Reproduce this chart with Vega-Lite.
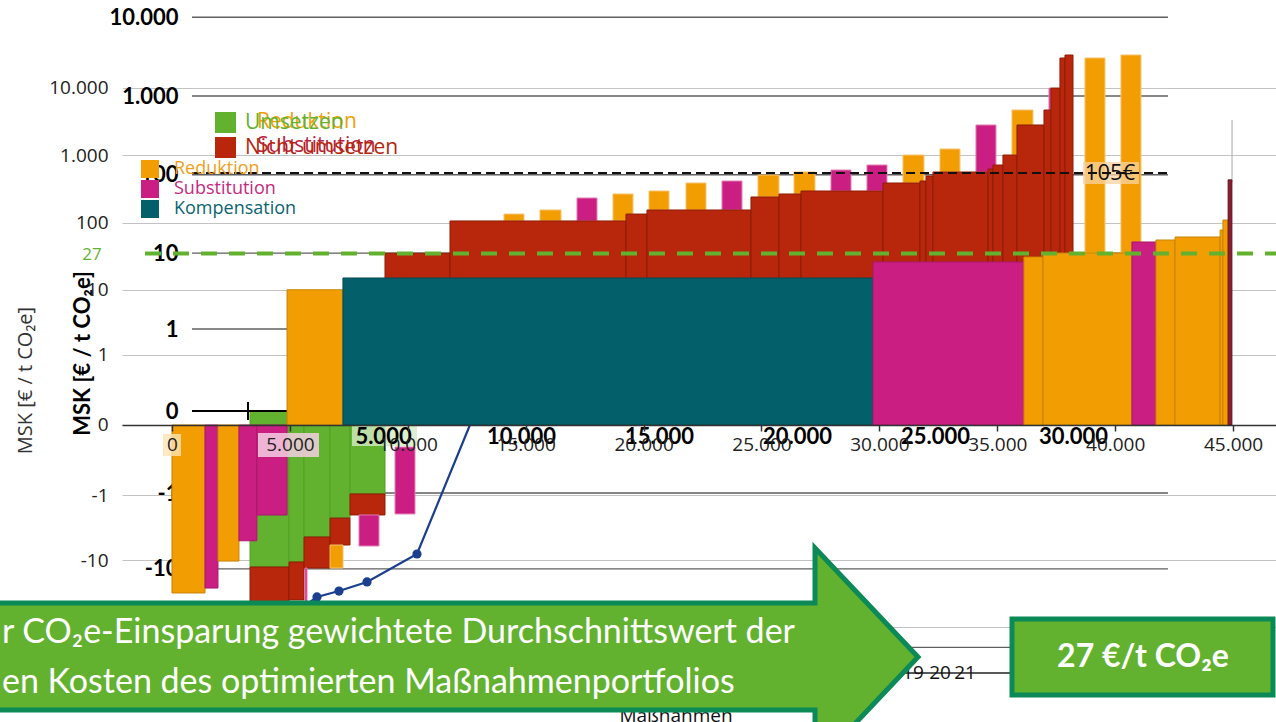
{
  "$schema": "https://vega.github.io/schema/vega-lite/v6.json",
  "width": 1154,
  "height": 722,
  "autosize": {"type": "none"},
  "padding": {"left": 122, "top": 0, "right": 0, "bottom": 0},
  "background": "white",
  "config": {"view": {"stroke": null}, "font": "Open Sans"},
  "resolve": {
    "scale": {"x": "independent", "y": "independent", "fill": "independent", "stroke": "independent"},
    "axis": {"x": "independent", "y": "independent"}
  },
  "layer": [
    {
      "data": {"values": [{"wert": -100}, {"wert": -10}, {"wert": -1}, {"wert": 1}, {"wert": 10}, {"wert": 100}, {"wert": 1000}, {"wert": 10000}]},
      "mark": {"type": "rule", "color": "#5f5f5f", "strokeWidth": 1.3},
      "encoding": {
        "y": {"field": "wert", "type": "quantitative", "scale": {"type": "symlog", "constant": 0.1, "domain": [-889.7, 16571], "nice": false, "zero": false}, "axis": null},
        "x": {"datum": -1920, "scale": {"domain": [-4457, 37355], "nice": false, "zero": false}, "axis": null},
        "x2": {"datum": 33440}
      }
    },
    {
      "data": {"values": [
        {"kat": "Reduktion", "x": 9384, "x2": 10108, "y": 25.8, "y2": 31.6},
        {"kat": "Reduktion", "x": 10688, "x2": 11449, "y": 25.8, "y2": 35.6},
        {"kat": "Substitution", "x": 12028, "x2": 12753, "y": 25.8, "y2": 50.6},
        {"kat": "Reduktion", "x": 13333, "x2": 14057, "y": 25.8, "y2": 56.9},
        {"kat": "Reduktion", "x": 14637, "x2": 15362, "y": 35.6, "y2": 62.1},
        {"kat": "Reduktion", "x": 15978, "x2": 16702, "y": 35.6, "y2": 78.5},
        {"kat": "Substitution", "x": 17282, "x2": 18006, "y": 35.6, "y2": 83.2},
        {"kat": "Reduktion", "x": 18586, "x2": 19347, "y": 52.1, "y2": 99.2},
        {"kat": "Reduktion", "x": 19891, "x2": 20651, "y": 56.9, "y2": 108.3},
        {"kat": "Substitution", "x": 21231, "x2": 21956, "y": 62.1, "y2": 114.8},
        {"kat": "Substitution", "x": 22535, "x2": 23260, "y": 62.1, "y2": 132.9},
        {"kat": "Reduktion", "x": 23840, "x2": 24600, "y": 78.5, "y2": 178},
        {"kat": "Reduktion", "x": 25180, "x2": 25904, "y": 108.3, "y2": 212.3},
        {"kat": "Substitution", "x": 26484, "x2": 27209, "y": 108.3, "y2": 428.5},
        {"kat": "Reduktion", "x": 27789, "x2": 28549, "y": 178, "y2": 664},
        {"kat": "Substitution", "x": 29129, "x2": 29201, "y": 664, "y2": 1263},
        {"kat": "Reduktion", "x": 30433, "x2": 31158, "y": 10, "y2": 3039},
        {"kat": "Reduktion", "x": 31737, "x2": 32462, "y": 10, "y2": 3316},
        {"kat": "Nicht umsetzen", "x": 5072, "x2": 7427, "y": 0, "y2": 10},
        {"kat": "Nicht umsetzen", "x": 7427, "x2": 13804, "y": 0, "y2": 25.8},
        {"kat": "Nicht umsetzen", "x": 13804, "x2": 14564, "y": 0, "y2": 31.6},
        {"kat": "Nicht umsetzen", "x": 14564, "x2": 18332, "y": 0, "y2": 35.6},
        {"kat": "Nicht umsetzen", "x": 18332, "x2": 19347, "y": 0, "y2": 52.1},
        {"kat": "Nicht umsetzen", "x": 19347, "x2": 20144, "y": 0, "y2": 56.9},
        {"kat": "Nicht umsetzen", "x": 20144, "x2": 23115, "y": 0, "y2": 62.1},
        {"kat": "Nicht umsetzen", "x": 23115, "x2": 24455, "y": 0, "y2": 78.5},
        {"kat": "Nicht umsetzen", "x": 24455, "x2": 24673, "y": 0, "y2": 83.2},
        {"kat": "Nicht umsetzen", "x": 24673, "x2": 24926, "y": 0, "y2": 96.3},
        {"kat": "Nicht umsetzen", "x": 24926, "x2": 26919, "y": 0, "y2": 108.3},
        {"kat": "Nicht umsetzen", "x": 26919, "x2": 27100, "y": 0, "y2": 118.2},
        {"kat": "Nicht umsetzen", "x": 27100, "x2": 27462, "y": 0, "y2": 132.9},
        {"kat": "Nicht umsetzen", "x": 27462, "x2": 27970, "y": 0, "y2": 178},
        {"kat": "Nicht umsetzen", "x": 27970, "x2": 28948, "y": 0, "y2": 428.5},
        {"kat": "Nicht umsetzen", "x": 28948, "x2": 29201, "y": 0, "y2": 664},
        {"kat": "Nicht umsetzen", "x": 29201, "x2": 29527, "y": 0, "y2": 1263},
        {"kat": "Nicht umsetzen", "x": 29527, "x2": 29709, "y": 0, "y2": 3039},
        {"kat": "Nicht umsetzen", "x": 29709, "x2": 30000, "y": 0, "y2": 3316},
        {"kat": "Umsetzen", "x": 181, "x2": 1594, "y": 0, "y2": -9.47},
        {"kat": "Umsetzen", "x": 1594, "x2": 2138, "y": 0, "y2": -8.17},
        {"kat": "Umsetzen", "x": 2138, "x2": 3080, "y": 0, "y2": -3.88},
        {"kat": "Umsetzen", "x": 3080, "x2": 3804, "y": 0, "y2": -2.19},
        {"kat": "Umsetzen", "x": 3804, "x2": 5072, "y": 0, "y2": -1.03},
        {"kat": "Nicht umsetzen", "x": 181, "x2": 1594, "y": -9.47, "y2": -26.5},
        {"kat": "Nicht umsetzen", "x": 1594, "x2": 2138, "y": -8.17, "y2": -25},
        {"kat": "Nicht umsetzen", "x": 2138, "x2": 3080, "y": -3.88, "y2": -9.76},
        {"kat": "Nicht umsetzen", "x": 3080, "x2": 3804, "y": -2.19, "y2": -4.93},
        {"kat": "Nicht umsetzen", "x": 3804, "x2": 5072, "y": -1.03, "y2": -1.99},
        {"kat": "Substitution", "x": 4130, "x2": 4855, "y": -1.99, "y2": -5.08},
        {"kat": "Reduktion", "x": 3080, "x2": 3551, "y": -4.93, "y2": -9.76},
        {"kat": "Substitution", "x": 5435, "x2": 6159, "y": -0.187, "y2": -1.93},
        {"kat": "Substitution", "x": 2174, "x2": 2246, "y": -9.76, "y2": -26.5}
      ]},
      "mark": {"type": "rect", "strokeWidth": 1},
      "encoding": {
        "x": {
          "field": "x", "type": "quantitative",
          "scale": {"domain": [-4457, 37355], "nice": false, "zero": false},
          "axis": {
            "orient": "bottom", "offset": -296,
            "values": [5000, 10000, 15000, 20000, 25000, 30000],
            "labelExpr": "floor(datum.value/1000) + '.000'",
            "domain": false, "ticks": false, "grid": false,
            "labelPadding": 0, "labelFont": "Lato", "labelFontSize": 22, "labelFontWeight": "bold",
            "labelColor": "#000", "labelFlush": false, "labelOverlap": false,
            "title": null, "zindex": 1
          }
        },
        "x2": {"field": "x2"},
        "y": {
          "field": "y", "type": "quantitative",
          "scale": {"type": "symlog", "constant": 0.1, "domain": [-889.7, 16571], "nice": false, "zero": false},
          "axis": {
            "orient": "left", "offset": -56,
            "values": [-100, -10, -1, 0, 1, 10, 100, 1000, 10000],
            "labelExpr": "datum.value >= 1000 ? floor(datum.value/1000) + '.000' : '' + datum.value",
            "domain": false, "ticks": false, "grid": false,
            "labelPadding": 0, "labelFont": "Lato", "labelFontSize": 22, "labelFontWeight": "bold",
            "labelColor": "#000", "labelFlush": false, "labelOverlap": false,
            "title": "MSK [€ / t CO₂e]", "titleFont": "Lato", "titleFontSize": 22, "titleFontWeight": "bold",
            "titleColor": "#000", "titleX": -84, "titleY": 353, "titleAngle": -90,
            "titleAlign": "center", "titleBaseline": "bottom", "zindex": 0
          }
        },
        "y2": {"field": "y2"},
        "fill": {
          "field": "kat", "type": "nominal",
          "scale": {"domain": ["Umsetzen", "Nicht umsetzen", "Reduktion", "Substitution"], "range": ["#62b22f", "#b8260b", "#f29e02", "#cb1e82"]},
          "legend": {
            "orient": "none", "legendX": 93, "legendY": 112,
            "values": ["Umsetzen", "Nicht umsetzen"], "title": null,
            "symbolType": "square", "symbolSize": 441, "symbolStrokeWidth": 0,
            "labelFont": "Open Sans", "labelFontSize": 21, "labelOffset": 9,
            "rowPadding": 3, "padding": 0,
            "encode": {"labels": {"update": {"fill": {"signal": "datum.value === 'Umsetzen' ? '#62b22f' : '#b5250b'"}}}}
          }
        },
        "stroke": {
          "field": "kat", "type": "nominal",
          "scale": {"domain": ["Umsetzen", "Nicht umsetzen", "Reduktion", "Substitution"], "range": ["#55a025", "#8f1d06", "#f7c26e", "#e27fb5"]},
          "legend": null
        }
      }
    },
    {
      "data": {"values": [{}]},
      "mark": {"type": "rule", "color": "#000", "strokeWidth": 2},
      "encoding": {
        "y": {"datum": 0, "scale": {"type": "symlog", "constant": 0.1, "domain": [-889.7, 16571], "nice": false, "zero": false}, "axis": null},
        "x": {"datum": -1920, "scale": {"domain": [-4457, 37355], "nice": false, "zero": false}, "axis": null},
        "x2": {"datum": 1522}
      }
    },
    {
      "data": {"values": [{}]},
      "mark": {"type": "rule", "color": "#000", "strokeWidth": 2},
      "encoding": {
        "x": {"datum": 109, "scale": {"domain": [-4457, 37355], "nice": false, "zero": false}, "axis": null},
        "y": {"datum": 0.03, "scale": {"type": "symlog", "constant": 0.1, "domain": [-889.7, 16571], "nice": false, "zero": false}, "axis": null},
        "y2": {"datum": -0.03}
      }
    },
    {
      "data": {"values": [{}]},
      "mark": {"type": "rect", "fill": "#fad3a0", "opacity": 0.75},
      "encoding": {
        "x": {"datum": 30361, "scale": {"domain": [-4457, 37355], "nice": false, "zero": false}, "axis": null},
        "x2": {"datum": 32390},
        "y": {"datum": 145, "scale": {"type": "symlog", "constant": 0.1, "domain": [-889.7, 16571], "nice": false, "zero": false}, "axis": null},
        "y2": {"datum": 76}
      }
    },
    {
      "data": {"values": [{}]},
      "mark": {"type": "rule", "color": "#111", "strokeWidth": 2, "strokeDash": [9, 5]},
      "encoding": {
        "y": {"datum": 105, "scale": {"type": "symlog", "constant": 0.1, "domain": [-889.7, 16571], "nice": false, "zero": false}, "axis": null},
        "x": {"datum": -1920, "scale": {"domain": [-4457, 37355], "nice": false, "zero": false}, "axis": null},
        "x2": {"datum": 33440}
      }
    },
    {
      "data": {"values": [{}]},
      "mark": {"type": "text", "text": "105€", "font": "Open Sans", "fontSize": 22, "color": "#111", "align": "center", "baseline": "middle"},
      "encoding": {
        "x": {"datum": 31339, "scale": {"domain": [-4457, 37355], "nice": false, "zero": false}, "axis": null},
        "y": {"datum": 105, "scale": {"type": "symlog", "constant": 0.1, "domain": [-889.7, 16571], "nice": false, "zero": false}, "axis": null}
      }
    },
    {
      "data": {"values": [
        {"n": 1, "x": 5259, "y": -59},
        {"n": 2, "x": 6149, "y": -35.3},
        {"n": 3, "x": 7082, "y": -28.8},
        {"n": 4, "x": 8270, "y": -21.1},
        {"n": 5, "x": 10390, "y": -8.07},
        {"n": 6, "x": 12723, "y": 0.0186}
      ]},
      "mark": {"type": "line", "color": "#1b3f8e", "strokeWidth": 2.2, "point": {"filled": true, "size": 85, "color": "#1b3f8e"}},
      "encoding": {
        "x": {"field": "x", "type": "quantitative", "scale": {"domain": [-2120, 46820], "nice": false, "zero": false}, "axis": null},
        "y": {"field": "y", "type": "quantitative", "scale": {"type": "symlog", "constant": 0.1, "domain": [-2525, 199270], "nice": false, "zero": false}, "axis": null},
        "order": {"field": "n"}
      }
    },
    {
      "data": {"values": [{}]},
      "mark": {"type": "rule", "color": "#a8a8a8", "strokeWidth": 1},
      "encoding": {
        "x": {"datum": 44955, "scale": {"domain": [-2120, 46820], "nice": false, "zero": false}, "axis": null},
        "y": {"datum": 3319, "scale": {"type": "symlog", "constant": 0.1, "domain": [-2525, 199270], "nice": false, "zero": false}, "axis": null},
        "y2": {"datum": 400}
      }
    },
    {
      "data": {"values": [
        {"kat": "Reduktion", "x": 0, "x2": 1400, "y": 0, "y2": -30.8},
        {"kat": "Substitution", "x": 1400, "x2": 1950, "y": 0, "y2": -26},
        {"kat": "Reduktion", "x": 1950, "x2": 2840, "y": 0, "y2": -10.3},
        {"kat": "Substitution", "x": 2840, "x2": 3600, "y": 0, "y2": -5.1},
        {"kat": "Substitution", "x": 3600, "x2": 4880, "y": 0, "y2": -2.06},
        {"kat": "Reduktion", "x": 4880, "x2": 7250, "y": 0, "y2": 10},
        {"kat": "Kompensation", "x": 7250, "x2": 29730, "y": 0, "y2": 15},
        {"kat": "Substitution", "x": 29730, "x2": 36130, "y": 0, "y2": 26},
        {"kat": "Reduktion", "x": 36130, "x2": 36940, "y": 0, "y2": 30.8},
        {"kat": "Reduktion", "x": 36940, "x2": 40710, "y": 0, "y2": 35.3},
        {"kat": "Substitution", "x": 40710, "x2": 41730, "y": 0, "y2": 51.5},
        {"kat": "Reduktion", "x": 41730, "x2": 42540, "y": 0, "y2": 55.1},
        {"kat": "Reduktion", "x": 42540, "x2": 44450, "y": 0, "y2": 61.1},
        {"kat": "Reduktion", "x": 44450, "x2": 44570, "y": 0, "y2": 77.6},
        {"kat": "Reduktion", "x": 44570, "x2": 44790, "y": 0, "y2": 109},
        {"kat": "Sonstige", "x": 44790, "x2": 44950, "y": 0, "y2": 430}
      ]},
      "mark": {"type": "rect", "strokeWidth": 1},
      "encoding": {
        "x": {
          "field": "x", "type": "quantitative",
          "scale": {"domain": [-2120, 46820], "nice": false, "zero": false},
          "axis": {
            "orient": "bottom", "offset": -297,
            "values": [0, 5000, 10000, 15000, 20000, 25000, 30000, 35000, 40000, 45000],
            "labelExpr": "datum.value == 0 ? '0' : floor(datum.value/1000) + '.000'",
            "domain": true, "domainColor": "#333", "domainWidth": 1.5,
            "ticks": true, "tickColor": "#333", "tickSize": 6, "tickWidth": 1.5,
            "grid": false, "labelFont": "Open Sans", "labelFontSize": 19, "labelColor": "#222",
            "labelPadding": 4, "labelFlush": false, "labelOverlap": false,
            "title": null, "zindex": 1
          }
        },
        "x2": {"field": "x2"},
        "y": {
          "field": "y", "type": "quantitative",
          "scale": {"type": "symlog", "constant": 0.1, "domain": [-2525, 199270], "nice": false, "zero": false},
          "axis": {
            "orient": "left",
            "values": [-100, -10, -1, 0, 1, 10, 100, 1000, 10000],
            "labelExpr": "datum.value >= 1000 ? floor(datum.value/1000) + '.000' : '' + datum.value",
            "domain": false, "ticks": false, "grid": true, "gridColor": "#c3c3c3", "gridWidth": 1.2,
            "labelFont": "Open Sans", "labelFontSize": 19, "labelColor": "#222", "labelPadding": 14,
            "labelOverlap": false, "labelFlush": false,
            "title": "MSK [€ / t CO₂e]", "titleFont": "Open Sans", "titleFontSize": 20, "titleFontWeight": "normal",
            "titleColor": "#333", "titleX": -87, "titleY": 380, "titleAngle": -90,
            "titleAlign": "center", "titleBaseline": "bottom", "zindex": 0
          }
        },
        "y2": {"field": "y2"},
        "fill": {
          "field": "kat", "type": "nominal",
          "scale": {"domain": ["Reduktion", "Substitution", "Kompensation", "Sonstige"], "range": ["#f29e02", "#cb1e82", "#035f69", "#8b1d33"]},
          "legend": {
            "orient": "none", "legendX": 19, "legendY": 160,
            "values": ["Reduktion", "Substitution", "Kompensation"], "title": null,
            "symbolType": "square", "symbolSize": 324, "symbolStrokeWidth": 0,
            "labelFont": "Open Sans", "labelFontSize": 18, "labelOffset": 15,
            "rowPadding": 2, "padding": 0,
            "encode": {"labels": {"update": {"fill": {"signal": "datum.value === 'Reduktion' ? '#f0a020' : datum.value === 'Substitution' ? '#c42a80' : '#0c6470'"}}}}
          }
        },
        "stroke": {
          "field": "kat", "type": "nominal",
          "scale": {"domain": ["Reduktion", "Substitution", "Kompensation", "Sonstige"], "range": ["#c98300", "#a9186c", "#024d55", "#5e1222"]},
          "legend": null
        }
      }
    },
    {
      "data": {"values": [{}]},
      "mark": {"type": "rect", "fill": "#fde3b5", "opacity": 0.8},
      "encoding": {
        "x": {"datum": -382, "scale": {"domain": [-2120, 46820], "nice": false, "zero": false}, "axis": null},
        "x2": {"datum": 382},
        "y": {"datum": -0.036, "scale": {"type": "symlog", "constant": 0.1, "domain": [-2525, 199270], "nice": false, "zero": false}, "axis": null},
        "y2": {"datum": -0.188}
      }
    },
    {
      "data": {"values": [{}]},
      "mark": {"type": "rect", "fill": "#f5cfe2", "opacity": 0.85},
      "encoding": {
        "x": {"datum": 3647, "scale": {"domain": [-2120, 46820], "nice": false, "zero": false}, "axis": null},
        "x2": {"datum": 6234},
        "y": {"datum": -0.031, "scale": {"type": "symlog", "constant": 0.1, "domain": [-2525, 199270], "nice": false, "zero": false}, "axis": null},
        "y2": {"datum": -0.198}
      }
    },
    {
      "data": {"values": [{}]},
      "mark": {"type": "rect", "fill": "#d5eac6", "opacity": 0.8},
      "encoding": {
        "x": {"datum": 3877, "scale": {"domain": [-4457, 37355], "nice": false, "zero": false}, "axis": null},
        "x2": {"datum": 6232},
        "y": {"datum": -0.055, "scale": {"type": "symlog", "constant": 0.1, "domain": [-889.7, 16571], "nice": false, "zero": false}, "axis": null},
        "y2": {"datum": -0.178}
      }
    },
    {
      "data": {"values": [{}]},
      "mark": {"type": "rule", "color": "#62b22f", "strokeWidth": 4, "strokeDash": [16, 12]},
      "encoding": {
        "y": {"datum": 34.7, "scale": {"type": "symlog", "constant": 0.1, "domain": [-2525, 199270], "nice": false, "zero": false}, "axis": null},
        "x": {"datum": -1145, "scale": {"domain": [-2120, 46820], "nice": false, "zero": false}, "axis": null},
        "x2": {"datum": 46820}
      }
    },
    {
      "data": {"values": [{}]},
      "mark": {"type": "text", "text": "27", "font": "Open Sans", "fontSize": 17, "color": "#62b22f", "align": "center", "baseline": "middle"},
      "encoding": {
        "x": {"datum": -3393, "scale": {"domain": [-2120, 46820], "nice": false, "zero": false}, "axis": null},
        "y": {"datum": 33, "scale": {"type": "symlog", "constant": 0.1, "domain": [-2525, 199270], "nice": false, "zero": false}, "axis": null}
      }
    },
    {
      "data": {"values": [{}]},
      "mark": {"type": "text", "text": "Reduktion", "font": "Open Sans", "fontSize": 21, "color": "#f29e02", "align": "left", "baseline": "middle"},
      "encoding": {
        "x": {"datum": 3605, "scale": {"domain": [-2120, 46820], "nice": false, "zero": false}, "axis": null},
        "y": {"datum": 3098, "scale": {"type": "symlog", "constant": 0.1, "domain": [-2525, 199270], "nice": false, "zero": false}, "axis": null}
      }
    },
    {
      "data": {"values": [{}]},
      "mark": {"type": "text", "text": "Substitution", "font": "Open Sans", "fontSize": 21, "color": "#b8233f", "align": "left", "baseline": "middle"},
      "encoding": {
        "x": {"datum": 3605, "scale": {"domain": [-2120, 46820], "nice": false, "zero": false}, "axis": null},
        "y": {"datum": 1365.6, "scale": {"type": "symlog", "constant": 0.1, "domain": [-2525, 199270], "nice": false, "zero": false}, "axis": null}
      }
    },
    {
      "data": {"values": [{}]},
      "mark": {"type": "rule", "color": "#222", "strokeWidth": 1.5},
      "encoding": {
        "y": {"datum": -474, "scale": {"type": "symlog", "constant": 0.1, "domain": [-2525, 199270], "nice": false, "zero": false}, "axis": null},
        "x": {"datum": 30874, "scale": {"domain": [-2120, 46820], "nice": false, "zero": false}, "axis": null},
        "x2": {"datum": 35540}
      }
    },
    {
      "data": {"values": [{}]},
      "mark": {"type": "text", "text": "19", "font": "Open Sans", "fontSize": 19, "color": "#111", "align": "center", "baseline": "middle"},
      "encoding": {
        "x": {"datum": 31426, "scale": {"domain": [-2120, 46820], "nice": false, "zero": false}, "axis": null},
        "y": {"datum": -474, "scale": {"type": "symlog", "constant": 0.1, "domain": [-2525, 199270], "nice": false, "zero": false}, "axis": null}
      }
    },
    {
      "data": {"values": [{}]},
      "mark": {"type": "text", "text": "20", "font": "Open Sans", "fontSize": 19, "color": "#111", "align": "center", "baseline": "middle"},
      "encoding": {
        "x": {"datum": 32570, "scale": {"domain": [-2120, 46820], "nice": false, "zero": false}, "axis": null},
        "y": {"datum": -474, "scale": {"type": "symlog", "constant": 0.1, "domain": [-2525, 199270], "nice": false, "zero": false}, "axis": null}
      }
    },
    {
      "data": {"values": [{}]},
      "mark": {"type": "text", "text": "21", "font": "Open Sans", "fontSize": 19, "color": "#111", "align": "center", "baseline": "middle"},
      "encoding": {
        "x": {"datum": 33631, "scale": {"domain": [-2120, 46820], "nice": false, "zero": false}, "axis": null},
        "y": {"datum": -474, "scale": {"type": "symlog", "constant": 0.1, "domain": [-2525, 199270], "nice": false, "zero": false}, "axis": null}
      }
    },
    {
      "data": {"values": [{}]},
      "mark": {"type": "text", "text": "Maßnahmen", "font": "Open Sans", "fontSize": 19, "color": "#111", "align": "center", "baseline": "middle"},
      "encoding": {
        "x": {"datum": 21375, "scale": {"domain": [-2120, 46820], "nice": false, "zero": false}, "axis": null},
        "y": {"datum": -2058, "scale": {"type": "symlog", "constant": 0.1, "domain": [-2525, 199270], "nice": false, "zero": false}, "axis": null}
      }
    },
    {
      "data": {"values": [{}]},
      "mark": {
        "type": "point", "filled": true, "opacity": 1, "size": 1000000,
        "shape": "M-0.96,-0.108L0.73,-0.108L0.73,-0.218L0.936,0L0.73,0.218L0.73,0.106L-0.96,0.106Z",
        "fill": "#62b22f", "stroke": "#0b8a57", "strokeWidth": 5
      },
      "encoding": {
        "x": {"datum": 11790, "scale": {"domain": [-2120, 46820], "nice": false, "zero": false}, "axis": null},
        "y": {"datum": -274.5, "scale": {"type": "symlog", "constant": 0.1, "domain": [-2525, 199270], "nice": false, "zero": false}, "axis": null}
      }
    },
    {
      "data": {"values": [{}]},
      "mark": {"type": "text", "text": "r CO₂e-Einsparung gewichtete Durchschnittswert der", "font": "Lato", "fontSize": 34, "color": "#ffffff", "align": "left", "baseline": "middle"},
      "encoding": {
        "x": {"datum": -7210, "scale": {"domain": [-2120, 46820], "nice": false, "zero": false}, "axis": null},
        "y": {"datum": -121, "scale": {"type": "symlog", "constant": 0.1, "domain": [-2525, 199270], "nice": false, "zero": false}, "axis": null}
      }
    },
    {
      "data": {"values": [{}]},
      "mark": {"type": "text", "text": "en Kosten des optimierten Maßnahmenportfolios", "font": "Lato", "fontSize": 34, "color": "#ffffff", "align": "left", "baseline": "middle"},
      "encoding": {
        "x": {"datum": -7210, "scale": {"domain": [-2120, 46820], "nice": false, "zero": false}, "axis": null},
        "y": {"datum": -666.7, "scale": {"type": "symlog", "constant": 0.1, "domain": [-2525, 199270], "nice": false, "zero": false}, "axis": null}
      }
    },
    {
      "data": {"values": [{}]},
      "mark": {"type": "rect", "fill": "#62b22f", "stroke": "#0b8a57", "strokeWidth": 5},
      "encoding": {
        "x": {"datum": 35624, "scale": {"domain": [-2120, 46820], "nice": false, "zero": false}, "axis": null},
        "x2": {"datum": 46693},
        "y": {"datum": -75, "scale": {"type": "symlog", "constant": 0.1, "domain": [-2525, 199270], "nice": false, "zero": false}, "axis": null},
        "y2": {"datum": -1004.6}
      }
    },
    {
      "data": {"values": [{}]},
      "mark": {"type": "text", "text": "27 €/t CO₂e", "font": "Lato", "fontSize": 32, "fontWeight": "bold", "color": "#ffffff", "align": "center", "baseline": "middle"},
      "encoding": {
        "x": {"datum": 41180, "scale": {"domain": [-2120, 46820], "nice": false, "zero": false}, "axis": null},
        "y": {"datum": -274.5, "scale": {"type": "symlog", "constant": 0.1, "domain": [-2525, 199270], "nice": false, "zero": false}, "axis": null}
      }
    }
  ]
}
